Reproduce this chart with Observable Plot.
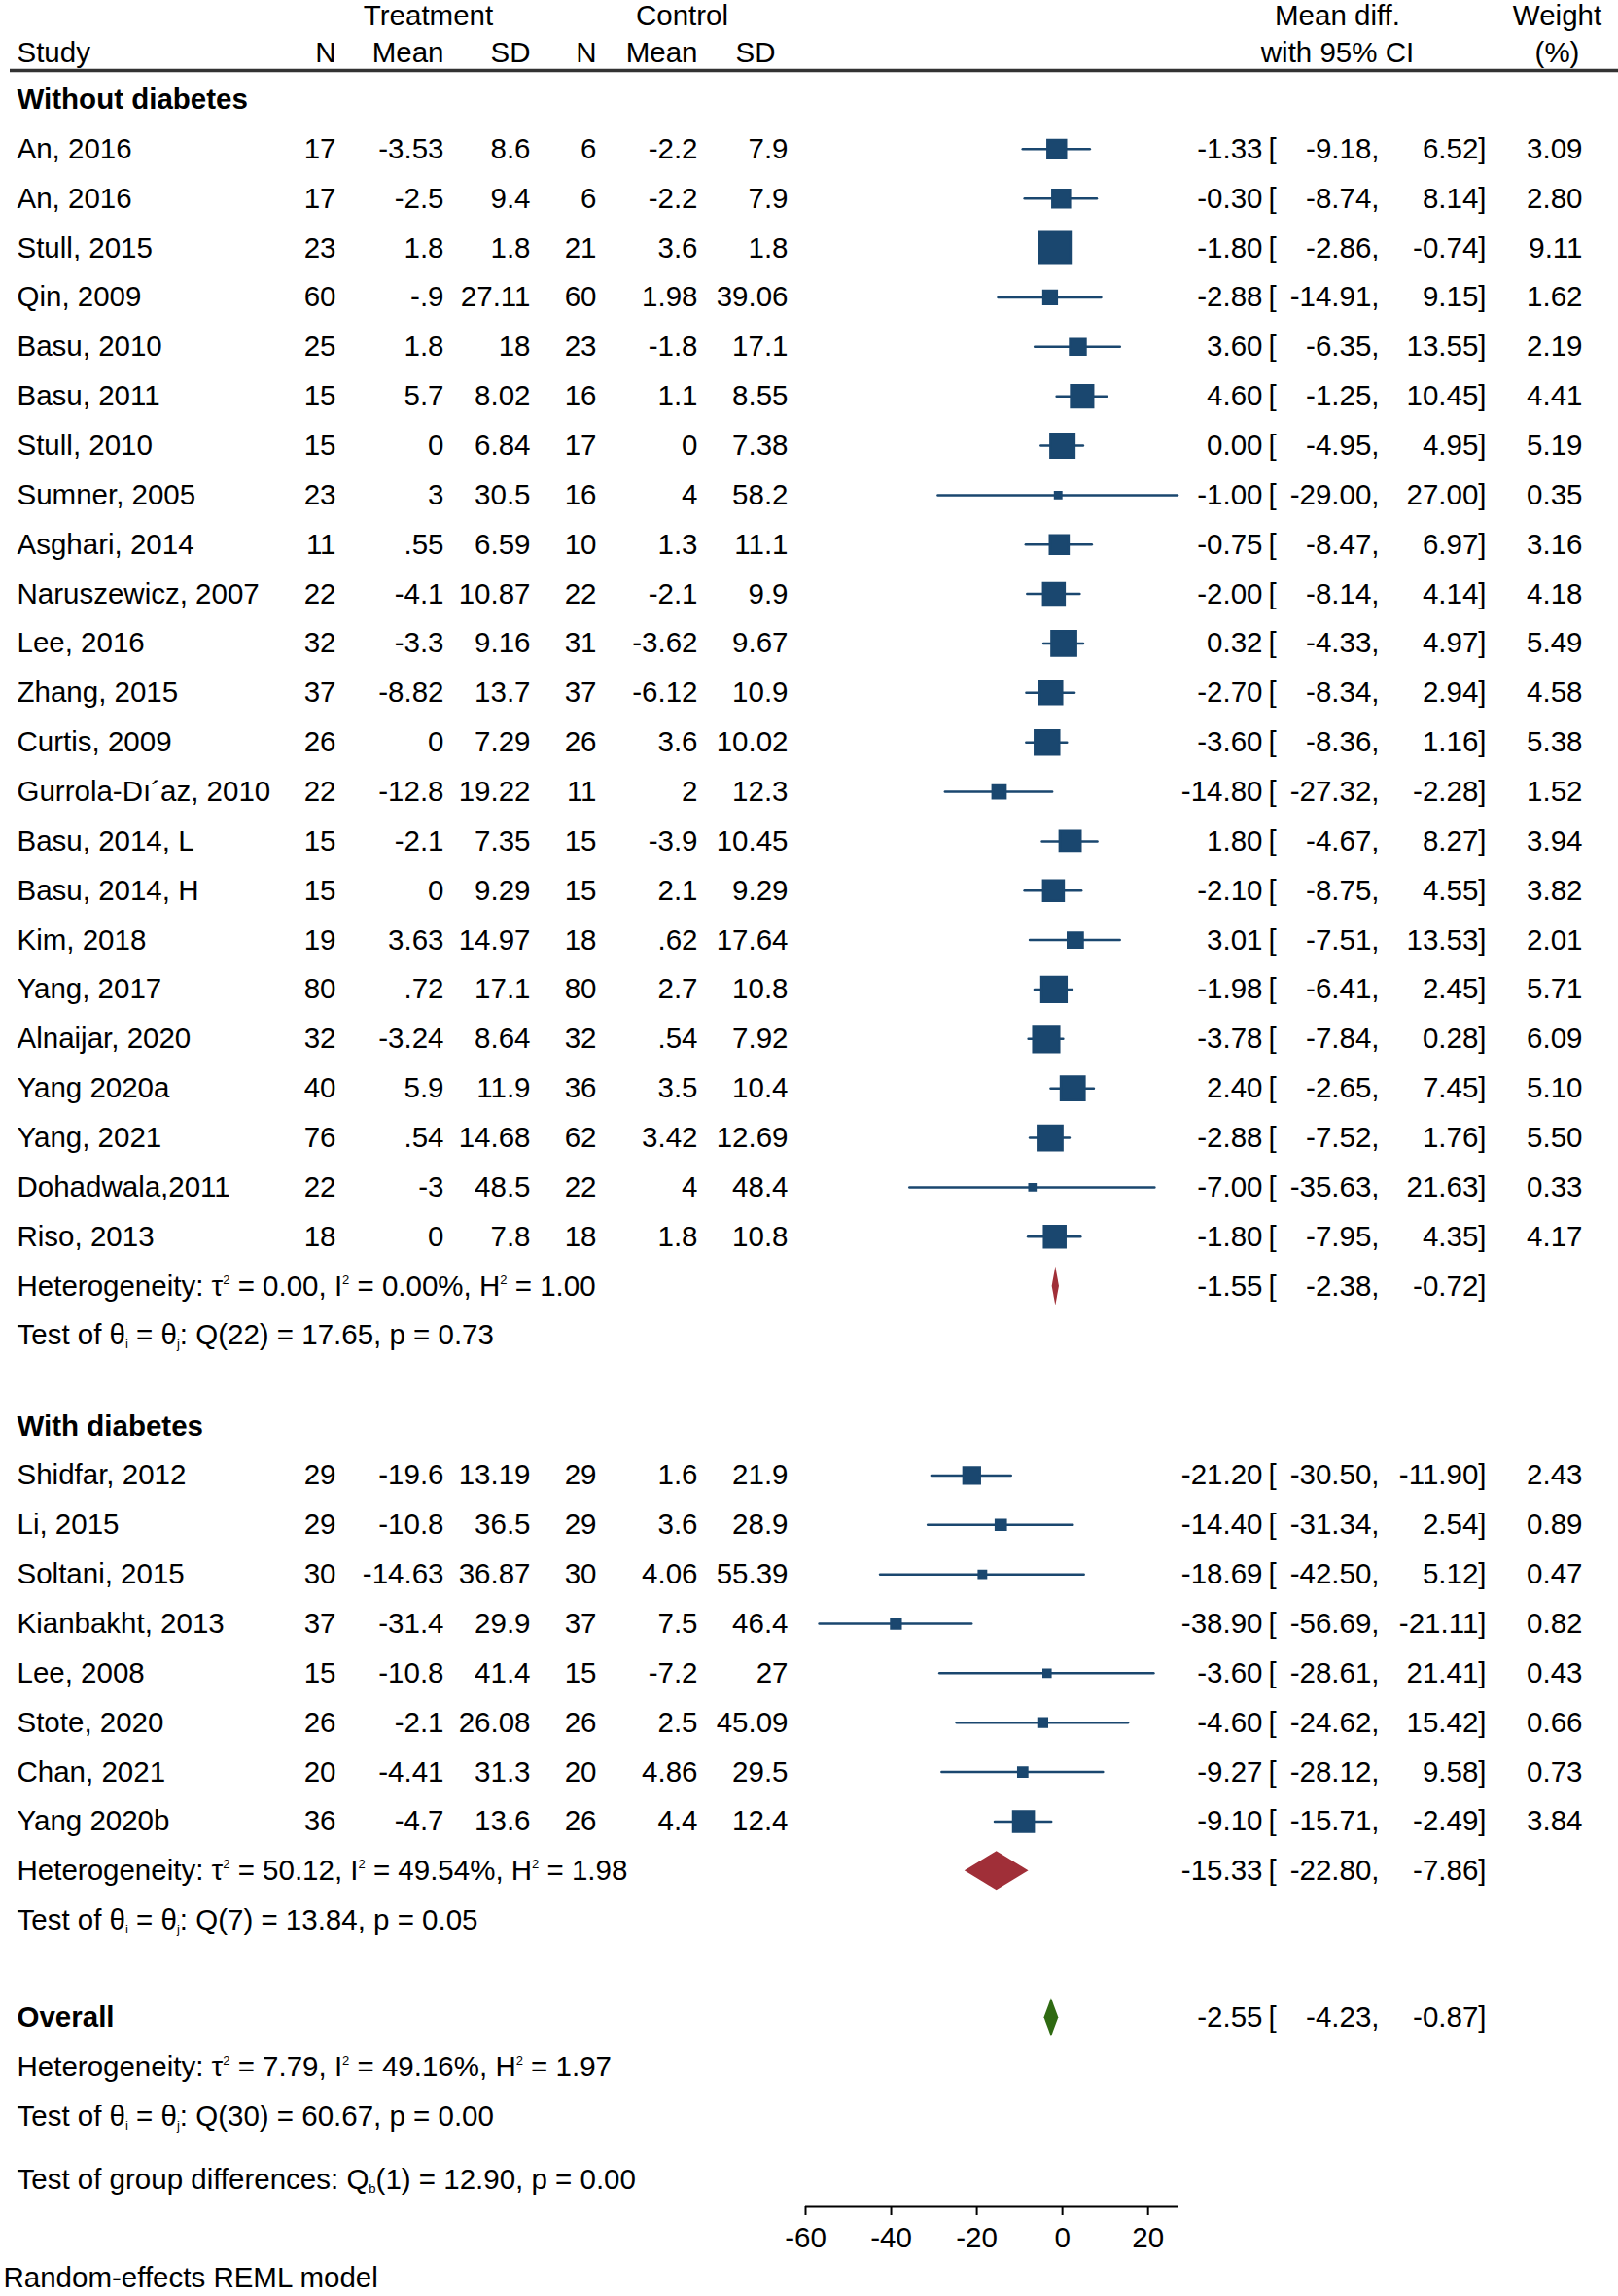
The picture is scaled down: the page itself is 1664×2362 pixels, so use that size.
<!DOCTYPE html>
<html><head><meta charset="utf-8">
<script src="https://cdn.jsdelivr.net/npm/d3@7"></script>
<script src="https://cdn.jsdelivr.net/npm/@observablehq/plot@0.6"></script>
<style>
html,body{margin:0;padding:0;background:#fff;}
#chart svg{display:block;}
#chart svg [aria-label*="x-axis"] path, #chart svg [aria-label*="x-axis"] line{stroke-width:2px;}
</style>
</head><body><div id="chart"></div>
<script>
// ---------- DATA ----------
const groups = ["Without diabetes", "With diabetes"];
const studyGroup = [0,0,0,0,0,0,0,0,0,0,0,0,0,0,0,0,0,0,0,0,0,0,0, 1,1,1,1,1,1,1,1];
const study = ["An, 2016","An, 2016","Stull, 2015","Qin, 2009","Basu, 2010","Basu, 2011","Stull, 2010","Sumner, 2005","Asghari, 2014","Naruszewicz, 2007","Lee, 2016","Zhang, 2015","Curtis, 2009","Gurrola-D\u0131\u00B4az, 2010","Basu, 2014, L","Basu, 2014, H","Kim, 2018","Yang, 2017","Alnaijar, 2020","Yang 2020a","Yang, 2021","Dohadwala,2011","Riso, 2013",
  "Shidfar, 2012","Li, 2015","Soltani, 2015","Kianbakht, 2013","Lee, 2008","Stote, 2020","Chan, 2021","Yang 2020b"];
const tN    = [17,17,23,60,25,15,15,23,11,22,32,37,26,22,15,15,19,80,32,40,76,22,18, 29,29,30,37,15,26,20,36];
const tMean = [-3.53,-2.5,1.8,-0.9,1.8,5.7,0,3,0.55,-4.1,-3.3,-8.82,0,-12.8,-2.1,0,3.63,0.72,-3.24,5.9,0.54,-3,0, -19.6,-10.8,-14.63,-31.4,-10.8,-2.1,-4.41,-4.7];
const tSD   = [8.6,9.4,1.8,27.11,18,8.02,6.84,30.5,6.59,10.87,9.16,13.7,7.29,19.22,7.35,9.29,14.97,17.1,8.64,11.9,14.68,48.5,7.8, 13.19,36.5,36.87,29.9,41.4,26.08,31.3,13.6];
const cN    = [6,6,21,60,23,16,17,16,10,22,31,37,26,11,15,15,18,80,32,36,62,22,18, 29,29,30,37,15,26,20,26];
const cMean = [-2.2,-2.2,3.6,1.98,-1.8,1.1,0,4,1.3,-2.1,-3.62,-6.12,3.6,2,-3.9,2.1,0.62,2.7,0.54,3.5,3.42,4,1.8, 1.6,3.6,4.06,7.5,-7.2,2.5,4.86,4.4];
const cSD   = [7.9,7.9,1.8,39.06,17.1,8.55,7.38,58.2,11.1,9.9,9.67,10.9,10.02,12.3,10.45,9.29,17.64,10.8,7.92,10.4,12.69,48.4,10.8, 21.9,28.9,55.39,46.4,27,45.09,29.5,12.4];
const md    = [-1.33,-0.30,-1.80,-2.88,3.60,4.60,0.00,-1.00,-0.75,-2.00,0.32,-2.70,-3.60,-14.80,1.80,-2.10,3.01,-1.98,-3.78,2.40,-2.88,-7.00,-1.80, -21.20,-14.40,-18.69,-38.90,-3.60,-4.60,-9.27,-9.10];
const lo    = [-9.18,-8.74,-2.86,-14.91,-6.35,-1.25,-4.95,-29.00,-8.47,-8.14,-4.33,-8.34,-8.36,-27.32,-4.67,-8.75,-7.51,-6.41,-7.84,-2.65,-7.52,-35.63,-7.95, -30.50,-31.34,-42.50,-56.69,-28.61,-24.62,-28.12,-15.71];
const hi    = [6.52,8.14,-0.74,9.15,13.55,10.45,4.95,27.00,6.97,4.14,4.97,2.94,1.16,-2.28,8.27,4.55,13.53,2.45,0.28,7.45,1.76,21.63,4.35, -11.90,2.54,5.12,-21.11,21.41,15.42,9.58,-2.49];
const weight= [3.09,2.80,9.11,1.62,2.19,4.41,5.19,0.35,3.16,4.18,5.49,4.58,5.38,1.52,3.94,3.82,2.01,5.71,6.09,5.10,5.50,0.33,4.17, 2.43,0.89,0.47,0.82,0.43,0.66,0.73,3.84];

const groupMD = [-1.55, -15.33], groupLo = [-2.38, -22.80], groupHi = [-0.72, -7.86];
const groupTau2 = [0.00, 50.12], groupI2 = [0.00, 49.54], groupH2 = [1.00, 1.98];
const groupQdf = [22, 7], groupQ = [17.65, 13.84], groupP = [0.73, 0.05];
const overallMD = -2.55, overallLo = -4.23, overallHi = -0.87;
const overallTau2 = 7.79, overallI2 = 49.16, overallH2 = 1.97, overallQdf = 30, overallQ = 60.67, overallP = 0.00;
const groupDiffDf = 1, groupDiffQ = 12.90, groupDiffP = 0.00;
const xTicks = [-60, -40, -20, 0, 20];
const xDomain = [-60, 27];
const modelNote = "Random-effects REML model";

// ---------- LAYOUT / STYLE ----------
const W = 1664, H = 2362;
const ML = 828, MR = 453, MB = 93;
const Y0 = 102, ROWH = 50.86;
const FS = 29.5;
const NAVY = "#1a476f", MAROON = "#a02f38", GREEN = "#2f6a12";
const COL = {left: 17, tN: 345, tMean: 456, tSD: 545, cN: 613, cMean: 717, cSD: 810, cSDh: 797,
             est: 1298, brk: 1304, lo: 1418, hi: 1528, w: 1627, treat: 440, ctrl: 701, mdiff: 1375, wt: 1601};
const DIAM_H = 20 / ROWH;

const f2 = v => v.toFixed(2);
const raw = v => String(v).replace(/^(-?)0\./, "$1.");

// build row positions
const studyRows = [], groupHdr = [], sumRows = [], leftNotes = [];
let r = 0;
groups.forEach((g, gi) => {
  if (gi > 0) r += 1.83;
  groupHdr.push({r, label: g});
  study.forEach((s, i) => {
    if (studyGroup[i] !== gi) return;
    r += 1;
    studyRows.push({r, study: s, tN: raw(tN[i]), tMean: raw(tMean[i]), tSD: raw(tSD[i]), cN: raw(cN[i]), cMean: raw(cMean[i]), cSD: raw(cSD[i]),
      md: md[i], lo: lo[i], hi: hi[i], weight: weight[i]});
  });
  r += 1;
  sumRows.push({r, md: groupMD[gi], lo: groupLo[gi], hi: groupHi[gi], kind: "group"});
  leftNotes.push({r, text: `Heterogeneity: \u03C4^2 = ${f2(groupTau2[gi])}, I^2 = ${f2(groupI2[gi])}%, H^2 = ${f2(groupH2[gi])}`});
  r += 1;
  leftNotes.push({r, text: `Test of \u03B8_i = \u03B8_j: Q(${groupQdf[gi]}) = ${f2(groupQ[gi])}, p = ${f2(groupP[gi])}`});
});
r += 1.97;
groupHdr.push({r, label: "Overall"});
sumRows.push({r, md: overallMD, lo: overallLo, hi: overallHi, kind: "overall"});
r += 1;
leftNotes.push({r, text: `Heterogeneity: \u03C4^2 = ${f2(overallTau2)}, I^2 = ${f2(overallI2)}%, H^2 = ${f2(overallH2)}`});
r += 1;
leftNotes.push({r, text: `Test of \u03B8_i = \u03B8_j: Q(${overallQdf}) = ${f2(overallQ)}, p = ${f2(overallP)}`});
r += 1.28;
leftNotes.push({r, text: `Test of group differences: Q_b(${groupDiffDf}) = ${f2(groupDiffQ)}, p = ${f2(groupDiffP)}`});
const axisRow = (H - MB - Y0) / ROWH;
const noteRow = (2343 - Y0) / ROWH;
const hdr1 = (16 - Y0) / ROWH, hdr2 = (54 - Y0) / ROWH, ruleRow = (72 - Y0) / ROWH;

const estRows = [...studyRows, ...sumRows];
const diamonds = sumRows.flatMap((d, k) => [
  {z: k, kind: d.kind, x: d.lo, y1: d.r, y2: d.r},
  {z: k, kind: d.kind, x: d.md, y1: d.r - DIAM_H, y2: d.r + DIAM_H},
  {z: k, kind: d.kind, x: d.hi, y1: d.r, y2: d.r}
]);

const T = (data, text, col, anchor, extra = {}) => Plot.text(data, {y: "r", text, frameAnchor: "left", dx: col - ML, textAnchor: anchor, ...extra});

const headerTop = [
  {r: hdr1, t: "Treatment", c: COL.treat}, {r: hdr1, t: "Control", c: COL.ctrl},
  {r: hdr1, t: "Mean diff.", c: COL.mdiff}, {r: hdr1, t: "Weight", c: COL.wt},
  {r: hdr2, t: "with 95% CI", c: COL.mdiff}, {r: hdr2, t: "(%)", c: COL.wt}
];
const headerCols = [
  {t: "N", c: COL.tN}, {t: "Mean", c: COL.tMean}, {t: "SD", c: COL.tSD},
  {t: "N", c: COL.cN}, {t: "Mean", c: COL.cMean}, {t: "SD", c: COL.cSDh}
].map(d => ({...d, r: hdr2}));

const chart = Plot.plot({
  width: W, height: H,
  marginLeft: ML, marginRight: MR, marginTop: 0, marginBottom: MB,
  style: {fontFamily: "'Liberation Sans', Arial, sans-serif", fontSize: FS + "px", color: "#000", background: "#fff", overflow: "visible"},
  x: {domain: xDomain, ticks: xTicks, tickSize: 10, tickPadding: 12, tickFormat: d => String(d), label: null},
  y: {domain: [0, 44], range: [Y0, Y0 + 44 * ROWH], axis: null},
  r: {type: "sqrt", domain: [0, d3.max(weight)], range: [0, 18.34]},
  marks: [
    // header
    ...headerTop.map(h => Plot.text([h], {y: "r", text: "t", frameAnchor: "left", dx: h.c - ML, textAnchor: "middle"})),
    Plot.text([{r: hdr2}], {y: "r", text: () => "Study", frameAnchor: "left", dx: COL.left - ML, textAnchor: "start"}),
    ...headerCols.map(h => Plot.text([h], {y: "r", text: "t", frameAnchor: "left", dx: h.c - ML, textAnchor: "end"})),
    Plot.ruleY([ruleRow], {stroke: "#333", strokeWidth: 3.5, insetLeft: -(ML - 10), insetRight: -MR}),
    // left table
    T(groupHdr, "label", COL.left, "start", {fontWeight: "bold"}),
    T(studyRows, "study", COL.left, "start"),
    T(studyRows, "tN", COL.tN, "end"),
    T(studyRows, "tMean", COL.tMean, "end"),
    T(studyRows, "tSD", COL.tSD, "end"),
    T(studyRows, "cN", COL.cN, "end"),
    T(studyRows, "cMean", COL.cMean, "end"),
    T(studyRows, "cSD", COL.cSD, "end"),
    T(leftNotes, "text", COL.left, "start"),
    Plot.text([{r: noteRow}], {y: "r", text: () => modelNote, frameAnchor: "left", dx: 3 - ML, textAnchor: "start"}),
    // right table
    T(estRows, d => f2(d.md), COL.est, "end"),
    T(estRows, () => "[", COL.brk, "start"),
    T(estRows, d => f2(d.lo) + ",", COL.lo, "end"),
    T(estRows, d => f2(d.hi) + "]", COL.hi, "end"),
    T(studyRows, d => f2(d.weight), COL.w, "end"),
    // forest
    Plot.ruleY(studyRows, {y: "r", x1: "lo", x2: "hi", stroke: NAVY, strokeWidth: 2.5, strokeLinecap: "round"}),
    Plot.dot(studyRows, {x: "md", y: "r", r: "weight", symbol: "square", fill: NAVY, stroke: NAVY, strokeWidth: 2.5}),
    Plot.areaY(diamonds.filter(d => d.kind === "group"), {x: "x", y1: "y1", y2: "y2", z: "z", fill: MAROON, curve: "linear"}),
    Plot.areaY(diamonds.filter(d => d.kind === "overall"), {x: "x", y1: "y1", y2: "y2", z: "z", fill: GREEN, curve: "linear"}),
    Plot.ruleY([axisRow], {x1: xDomain[0], x2: xDomain[1], stroke: "#000", strokeWidth: 2})
  ]
});

// superscripts / subscripts
chart.querySelectorAll("text").forEach(t => {
  const s = t.textContent;
  if (!/[\^_]/.test(s) || t.children.length) return;
  t.textContent = "";
  let shift = 0;
  for (const p of s.split(/([\^_].)/)) {
    if (!p) continue;
    const ts = document.createElementNS("http://www.w3.org/2000/svg", "tspan");
    if (p[0] === "^" || p[0] === "_") {
      const d = p[0] === "^" ? -12 : 4;
      ts.setAttribute("dy", d - shift); shift = d;
      ts.setAttribute("font-size", "13px");
      ts.textContent = p[1];
    } else {
      ts.setAttribute("dy", -shift); shift = 0;
      ts.textContent = p;
    }
    t.appendChild(ts);
  }
});
document.getElementById("chart").appendChild(chart);
</script>
</body></html>
